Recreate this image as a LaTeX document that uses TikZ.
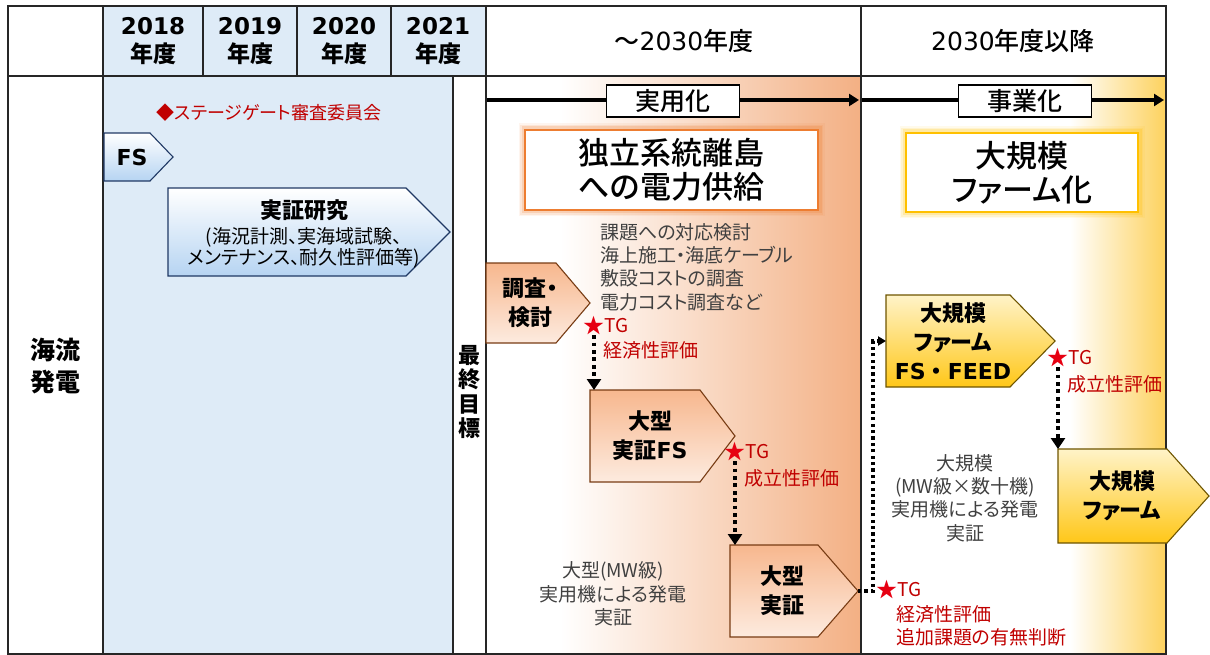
\documentclass[tikz,border=0pt]{standalone}
\usepackage{fontspec}
\setmainfont{Noto Sans CJK JP}[RawFeature={+palt}]
\newfontfamily\med{Noto Sans CJK JP Medium}[RawFeature={+palt}]
\newfontfamily\jpfull{Noto Sans CJK JP}
\newfontfamily\lat{DejaVu Sans}
\usetikzlibrary{arrows.meta,calc}
\definecolor{bluebg}{RGB}{222,235,247}
\definecolor{orangeG}{RGB}{243,176,132}
\definecolor{goldG}{RGB}{253,210,95}
\definecolor{tgred}{RGB}{192,0,0}
\definecolor{starred}{RGB}{230,0,18}
\definecolor{orangeB}{RGB}{237,125,49}
\definecolor{goldB}{RGB}{255,192,0}
\definecolor{grayT}{RGB}{64,64,64}
\definecolor{penO1}{RGB}{247,183,142}
\definecolor{penO2}{RGB}{253,235,223}
\definecolor{penOB}{RGB}{120,60,20}
\definecolor{penY1}{RGB}{255,243,200}
\definecolor{penY2}{RGB}{255,199,24}
\definecolor{penYB}{RGB}{110,85,0}
\definecolor{penB2}{RGB}{182,212,242}
\definecolor{penBB}{RGB}{31,56,100}
\tikzset{
  every node/.style={inner sep=0pt,outer sep=0pt},
  tline/.style={line width=1.5pt,draw=black!85},
  hdryear/.style={align=center,font=\bfseries\fontsize{23}{28}\selectfont},
  hdrcol/.style={align=center,font=\med\fontsize{25}{28}\selectfont},
  labbox/.style={draw,fill=white,line width=1.6pt,minimum width=133pt,minimum height=32pt,font=\med\fontsize{25}{28}\selectfont},
  tlarrow/.style={line width=3.4pt,-{Triangle[length=10pt,width=12pt]}},
  pentO/.style={top color=penO1,bottom color=penO2,draw=penOB,line width=1.1pt},
  pentY/.style={top color=penY1,bottom color=penY2,draw=penYB,line width=1.1pt},
  pentB/.style={top color=white,bottom color=penB2,draw=penBB,line width=1.1pt},
  ptxt/.style={align=center,font=\bfseries\fontsize{22}{29}\selectfont},
  small/.style={font=\fontsize{19}{23.3}\selectfont},
  graytxt/.style={small,align=center,text=grayT},
  redtxt/.style={small,text=tgred,align=left},
  starnode/.style={font=\fontsize{21}{24}\selectfont,text=starred},
  dotarr/.style={line width=3.8pt,dash pattern=on 3.8pt off 3.6pt,-{Triangle[length=11pt,width=14pt]}},
  dotarr2/.style={line width=3.2pt,dash pattern=on 3.2pt off 3.2pt,-{Triangle[length=8pt,width=9pt]}},
}
\newcommand\pent[9]{%
  \draw[#7] (#2,#3) -- ({#4-#6},#3) -- (#4,{(#3+#5)/2}) -- ({#4-#6},#5) -- (#2,#5) -- cycle;
  \node[ptxt] (#1) at (#8,{(#3+#5)/2}) {#9};
  \coordinate (#1-tip) at (#4,{(#3+#5)/2});
  \coordinate (#1-top) at (#2,#3);
  \coordinate (#1-left) at (#2,{(#3+#5)/2});
}
\begin{document}
\begin{tikzpicture}[x=1pt,y=-1pt]
\useasboundingbox (0,0) rectangle (1210,655);
% backgrounds
\fill[bluebg] (103,6) rectangle (486,76);
\fill[bluebg] (103,76) rectangle (453,654);
\shade[left color=white,right color=orangeG] (560,77) rectangle (860,654);
\shade[left color=white,right color=goldG] (1070,77) rectangle (1165,654);
% table lines
\draw[tline] (8,6) rectangle (1166,654);
\draw[tline] (8,76) -- (1166,76);
\foreach \x in {203,297,391} \draw[tline] (\x,6) -- (\x,76);
\draw[tline] (103,6) -- (103,654);
\draw[tline,line width=2.4pt] (486,6) -- (486,654);
\draw[tline,line width=2.4pt] (453,76) -- (453,654);
\draw[tline] (861,6) -- (861,654);
% header
\node[hdryear] (y18) at (153,41) {{\lat 2018}\\年度};
\node[hdryear] (y19) at (250,41) {{\lat 2019}\\年度};
\node[hdryear] (y20) at (344,41) {{\lat 2020}\\年度};
\node[hdryear] (y21) at (438,41) {{\lat 2021}\\年度};
\node[hdrcol] (c2030) at (684,41) {～{\lat 2030}年度};
\node[hdrcol] (c2030b) at (1013,41) {{\lat 2030}年度以降};
\node[align=center,font=\bfseries\fontsize{25}{32}\selectfont] (kairyu) at (55,366) {海流\\発電};
\node[align=center,font=\bfseries\fontsize{22}{24.5}\selectfont] (goal) at (469,392) {最\\終\\目\\標};
\node[font=\fontsize{18}{22}\selectfont,text=tgred] (sg) at (269,113) {◆ステージゲート審査委員会};
% timeline
\coordinate (t1s) at (487,100); \coordinate (t1e) at (859,100);
\draw[tlarrow] (t1s) -- (t1e);
\node[labbox] (jitsuyo) at (673,101) {実用化};
\coordinate (t2s) at (862,100); \coordinate (t2e) at (1164,100);
\draw[tlarrow] (t2s) -- (t2e);
\node[labbox] (jigyo) at (1025,101) {事業化};
% goal boxes
\foreach \w/\o in {13/0.08,10/0.12,7/0.2}
  \draw[orangeB,line width=\w pt,opacity=\o] (525,130) rectangle (818,210);
\node[draw=orangeB,fill=white,line width=2.8pt,minimum width=293pt,minimum height=80pt,align=center,font=\med\fontsize{31}{34}\selectfont] (goalO) at (671.5,170) {独立系統離島\\への電力供給};
\foreach \w/\o in {13/0.08,10/0.12,7/0.2}
  \draw[goldB,line width=\w pt,opacity=\o] (906,133) rectangle (1138,212);
\node[draw=goldB,fill=white,line width=2.8pt,minimum width=232pt,minimum height=79pt,align=center,font=\med\fontsize{31}{34}\selectfont] (goalY) at (1022,172.5) {大規模\\ファーム化};
% pentagons
\pent{fs}{104}{133}{173}{181}{23}{pentB}{132}{\lat FS}
\draw[pentB] (168,188) -- (406,188) -- (450,232) -- (406,276) -- (168,276) -- cycle;
\node[align=center,font=\fontsize{19}{21}\selectfont] (jissho) at (304,234) {{\bfseries\fontsize{22}{26}\selectfont 実証研究}\\[4pt](海況計測、実海域試験、\\メンテナンス、耐久性評価等)};
\pent{chosa}{486}{263}{590}{343}{34}{pentO}{530}{調査・\\検討}
\pent{ogfs}{590}{390}{735}{482}{35}{pentO}{650}{大型\\実証{\lat FS}}
\pent{ogj}{730}{545}{858}{637}{40}{pentO}{782}{大型\\実証}
\pent{farmfs}{886}{295}{1055}{387}{45}{pentY}{953}{大規模\\ファーム\\{\lat FS}{\jpfull ・}{\lat FEED}}
\pent{farm}{1058}{449}{1209}{543}{42}{pentY}{1122}{大規模\\ファーム}
% descriptive texts
\node[small,anchor=west,align=left,text=grayT] (list) at (600,267) {課題への対応検討\\海上施工・海底ケーブル\\敷設コストの調査\\電力コスト調査など};
\node[graytxt] (d1) at (613,594) {大型(MW級)\\実用機による発電\\実証};
\node[graytxt] (d2) at (965,498) {大規模\\(MW級×数十機)\\実用機による発電\\実証};
% TG marks
\node[starnode] (s1) at (594,326) {★};
\node[redtxt,anchor=west] (tg1) at (s1.east) {TG};
\node[redtxt,anchor=west] (e1) at (603,350) {経済性評価};
\node[starnode] (s2) at (735,452) {★};
\node[redtxt,anchor=west] (tg2) at (s2.east) {TG};
\node[redtxt,anchor=west] (e2) at (744,478) {成立性評価};
\node[starnode] (s3) at (887,590) {★};
\node[redtxt,anchor=west] (tg3) at (s3.east) {TG};
\node[redtxt,anchor=west] (e3) at (896,626) {経済性評価\\追加課題の有無判断};
\node[starnode] (s4) at (1058,358) {★};
\node[redtxt,anchor=west] (tg4) at (s4.east) {TG};
\node[redtxt,anchor=west] (e4) at (1067,384) {成立性評価};
% connectors
\draw[dotarr] (s1.south) -- (s1.south |- ogfs-top);
\draw[dotarr] (s2.south) -- (s2.south |- ogj-top);
\draw[dotarr] (s4.south) -- (s4.south |- farm-top);
\draw[dotarr2] (ogj-tip) -- ++(15,0) |- (farmfs-left);
\end{tikzpicture}
\end{document}
